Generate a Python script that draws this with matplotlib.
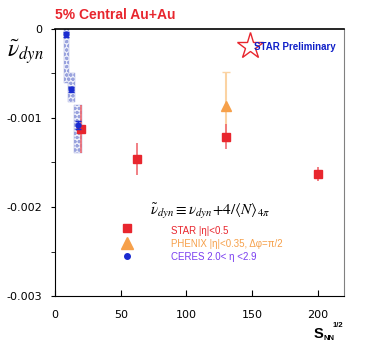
import matplotlib
matplotlib.use("Agg")
import matplotlib.pyplot as plt
from matplotlib.patches import Rectangle

# STAR 5% central Au+Au
star_x = [19.6, 62.4, 130.0, 200.0]
star_y = [-0.00112, -0.00146, -0.00121, -0.00163]
star_err = [0.00027, 0.00018, 0.00014, 0.00008]

# PHENIX
phenix_x = [130.0]
phenix_y = [-0.00087]
phenix_err = [0.00039]

# CERES (stat errors + systematic boxes)
ceres_x = [8.7, 12.3, 17.3]
ceres_y = [-0.00006, -0.00068, -0.00108]
ceres_err = [0.00003, 0.00003, 0.00004]
ceres_sys_hi = [0.0, -0.00049, -0.00085]
ceres_sys_lo = [-0.00061, -0.00082, -0.00139]
ceres_sys_w = [4.2, 5.1, 6.1]

plt.rcParams['mathtext.fontset'] = 'stix'

fig = plt.figure(figsize=(3.68, 3.52), dpi=100)
ax = fig.add_axes([0.1495, 0.159, 0.7855, 0.759])

# systematic boxes for CERES
for x, hi, lo, w in zip(ceres_x, ceres_sys_hi, ceres_sys_lo, ceres_sys_w):
    ax.add_patch(Rectangle((x - w / 2, lo), w, hi - lo, facecolor='#eef0fb',
                           edgecolor='#9aa3dd', hatch='oooo', lw=0.3, zorder=1))

ax.errorbar(star_x, star_y, yerr=star_err, fmt='s', color='#e8262e', ms=6,
            ecolor='#ef6a70', elinewidth=1.2, capsize=0, zorder=4)
ax.errorbar(phenix_x, phenix_y, yerr=phenix_err, fmt='^', color='#f6a04a', ms=7,
            ecolor='#fbd3a3', elinewidth=1.5, capsize=3, zorder=3)
ax.errorbar(ceres_x, ceres_y, yerr=ceres_err, fmt='o', color='#1a2bd0', ms=3.5,
            ecolor='#1a2bd0', elinewidth=1, capsize=2.5, zorder=5)

ax.set_xlim(0, 220)
ax.set_ylim(-0.003, 0)
ax.set_xticks([0, 50, 100, 150, 200])
ax.set_yticks([-0.003, -0.002, -0.001, 0])
ax.set_yticklabels(['-0.003', '-0.002', '-0.001', '0'])
ax.set_yticks([-0.0025, -0.0015, -0.0005], minor=True)
ax.tick_params(axis='x', direction='in', length=4, labelsize=8, pad=10)
ax.tick_params(axis='y', which='both', direction='out', length=3, labelsize=8, pad=6)
ax.spines['top'].set_linewidth(1.2)
ax.spines['right'].set_color('#808080')

# labels and annotations
fig.text(0.15, 0.945, '5% Central Au+Au', color='#e8262e', fontsize=10,
         fontweight='bold', family='Liberation Sans')
fig.text(0.02, 0.835, r'$\tilde{\nu}_{dyn}$', fontsize=17)

# x label: S_NN^(1/2)
fig.text(0.852, 0.04, 'S', fontsize=10.5, fontweight='bold', family='Liberation Sans')
fig.text(0.88, 0.033, 'NN', fontsize=5.5, fontweight='bold', family='Liberation Sans')
fig.text(0.903, 0.07, '1/2', fontsize=5.5, fontweight='bold', family='Liberation Sans')

ax.plot([0.673], [0.935], transform=ax.transAxes, marker='*', ms=20,
        mfc='white', mec='#e8262e', mew=1)
ax.text(0.688, 0.932, 'STAR Preliminary', transform=ax.transAxes, color='#1020c8',
        fontsize=7, fontweight='bold', family='Liberation Sans', va='center')

ax.text(0.33, 0.305, r'$\tilde{\nu}_{dyn} \equiv \nu_{dyn}\!+\!4/\langle N\rangle_{4\pi}$',
        transform=ax.transAxes, fontsize=11)

leg_y = [0.245, 0.195, 0.145]
ax.plot([0.25], [leg_y[0] + 0.01], 's', color='#e8262e', ms=6, transform=ax.transAxes)
ax.plot([0.25], [leg_y[1] + 0.005], '^', color='#f6a04a', ms=8, transform=ax.transAxes)
ax.plot([0.25], [leg_y[2] + 0.003], 'o', color='#1a2bd0', ms=4, transform=ax.transAxes)
ax.text(0.40, leg_y[0], 'STAR |\u03b7|<0.5', transform=ax.transAxes, color='#e8262e',
        fontsize=7, family='Liberation Sans', va='center')
ax.text(0.40, leg_y[1], 'PHENIX |\u03b7|<0.35, \u0394\u03c6=\u03c0/2', transform=ax.transAxes,
        color='#f6a04a', fontsize=7, family='Liberation Sans', va='center')
ax.text(0.40, leg_y[2], 'CERES 2.0< \u03b7 <2.9', transform=ax.transAxes, color='#7a3ff0',
        fontsize=7, family='Liberation Sans', va='center')

fig.savefig('out.png', dpi=100)
